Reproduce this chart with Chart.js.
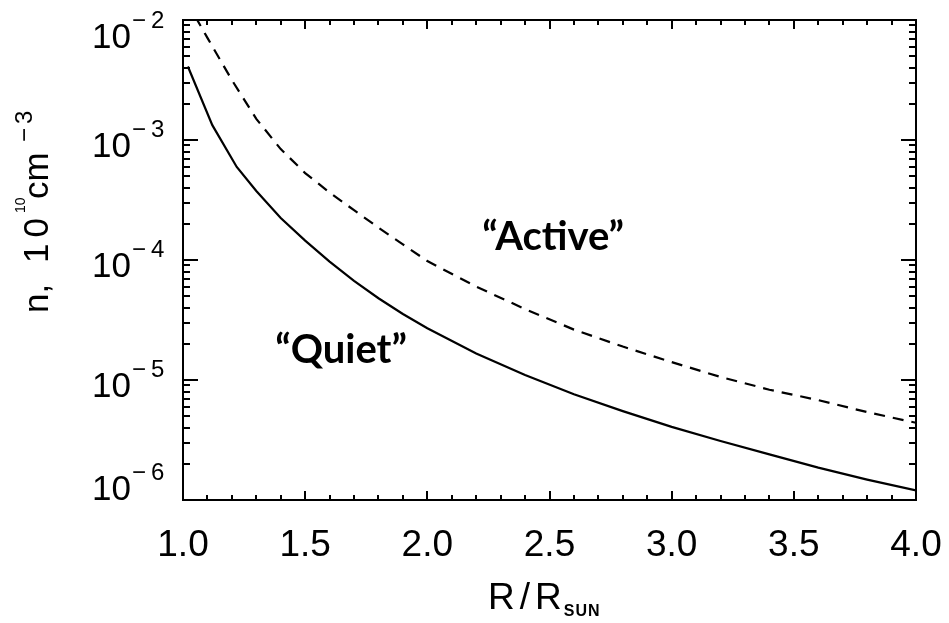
<!DOCTYPE html>
<html><head><meta charset="utf-8">
<script src="https://cdn.jsdelivr.net/npm/chart.js@4/dist/chart.umd.min.js"></script>
<style>html,body{margin:0;padding:0;background:#fff;}#wrap{width:949px;height:623px;}</style>
</head><body><div id="wrap"><canvas id="c" width="949" height="623"></canvas></div>
<script>
// ---- data ----
const quietR = [1.02, 1.12, 1.22, 1.3, 1.4, 1.5, 1.6, 1.7, 1.8, 1.9, 2.0, 2.2, 2.4, 2.6, 2.8, 3.0, 3.2, 3.4, 3.6, 3.8, 4.0];
const quietN = [4.1e-3, 1.33e-3, 5.96e-4, 3.76e-4, 2.24e-4, 1.45e-4, 9.7e-5, 6.7e-5, 4.8e-5, 3.55e-5, 2.7e-5, 1.66e-5, 1.1e-5, 7.6e-6, 5.5e-6, 4.07e-6, 3.1e-6, 2.4e-6, 1.86e-6, 1.48e-6, 1.2e-6];
const activeR = [1.05, 1.1, 1.2, 1.3, 1.4, 1.5, 1.6, 1.7, 1.8, 1.9, 2.0, 2.2, 2.4, 2.6, 2.8, 3.0, 3.2, 3.4, 3.6, 3.8, 4.0];
const activeN = [1.07e-2, 7.1e-3, 3.16e-3, 1.5e-3, 8.4e-4, 5.3e-4, 3.65e-4, 2.6e-4, 1.86e-4, 1.35e-4, 9.8e-5, 6.0e-5, 3.9e-5, 2.63e-5, 1.9e-5, 1.41e-5, 1.06e-5, 8.3e-6, 6.8e-6, 5.4e-6, 4.4e-6];
const xTickValues = [1.0, 1.5, 2.0, 2.5, 3.0, 3.5, 4.0];
const xTickLabels = ['1.0', '1.5', '2.0', '2.5', '3.0', '3.5', '4.0'];
const yDecades = [1e-6, 1e-5, 1e-4, 1e-3, 1e-2];
const yExponents = ['\u22126', '\u22125', '\u22124', '\u22123', '\u22122'];
const yMinorMultipliers = [2, 3, 4, 5, 6, 7, 8, 9];
const xMinorStep = 0.1;
const seriesNames = ['\u201CQuiet\u201D', '\u201CActive\u201D'];

// ---- layout / style ----
const annotationPos = [{x: 1.647, y: 1.39e-5}, {x: 2.515, y: 1.21e-4}];
const AX_FONT = '"Liberation Sans", Arial, sans-serif';

const decoPlugin = {
  id: 'deco',
  afterDraw(chart) {
    const ctx = chart.ctx, a = chart.chartArea;
    const xs = chart.scales.x, ys = chart.scales.y;
    ctx.save();
    ctx.strokeStyle = '#000'; ctx.fillStyle = '#000'; ctx.lineWidth = 2;
    // inner ticks, y (left & right)
    const yTick = (v, len) => {
      const p = Math.round(ys.getPixelForValue(v));
      ctx.beginPath();
      ctx.moveTo(a.left, p); ctx.lineTo(a.left + len, p);
      ctx.moveTo(a.right, p); ctx.lineTo(a.right - len, p);
      ctx.stroke();
    };
    yDecades.forEach((d, i) => {
      yTick(d, 15);
      if (i < yDecades.length - 1) yMinorMultipliers.forEach(m => yTick(d * m, 7));
    });
    // inner ticks, x (bottom & top)
    const n = Math.round((xs.max - xs.min) / xMinorStep);
    for (let k = 0; k <= n; k++) {
      const v = xs.min + k * xMinorStep;
      const major = xTickValues.some(t => Math.abs(t - v) < 1e-6);
      const len = major ? 9 : 5;
      const p = Math.round(xs.getPixelForValue(v));
      ctx.beginPath();
      ctx.moveTo(p, a.bottom); ctx.lineTo(p, a.bottom - len);
      ctx.moveTo(p, a.top); ctx.lineTo(p, a.top + len);
      ctx.stroke();
    }
    // y tick labels: 10 with superscript exponent
    yDecades.forEach((d, i) => {
      const py = ys.getPixelForValue(d);
      let base = py + 17;
      if (base - 28 < a.top) base += a.top - (base - 28);
      if (base > a.bottom) base -= base - a.bottom;
      ctx.textBaseline = 'alphabetic';
      ctx.font = '35px ' + AX_FONT;
      ctx.textAlign = 'right';
      ctx.fillText('10', a.left - 52, base);
      ctx.textAlign = 'left';
      ctx.font = '24px ' + AX_FONT;
      ctx.letterSpacing = '5px';
      ctx.fillText(yExponents[i], a.left - 51, base - 20);
      ctx.letterSpacing = '0px';
    });
    // y title (rotated)
    ctx.save();
    ctx.translate(48, 313);
    ctx.rotate(-Math.PI / 2);
    ctx.textAlign = 'left'; ctx.textBaseline = 'alphabetic';
    ctx.font = '35px ' + AX_FONT;
    ctx.fillText('n,', 0, 0);
    ctx.letterSpacing = '6px';
    ctx.fillText('10', 50, 0);
    ctx.letterSpacing = '0px';
    ctx.font = '14px ' + AX_FONT;
    ctx.fillText('10', 100, -23);
    ctx.font = '35px ' + AX_FONT;
    ctx.fillText('cm', 114, 0);
    ctx.font = '24px ' + AX_FONT;
    ctx.letterSpacing = '4px';
    ctx.fillText('\u22123', 171, -16);
    ctx.letterSpacing = '0px';
    ctx.restore();
    // x title
    ctx.textAlign = 'left'; ctx.textBaseline = 'alphabetic';
    ctx.font = '37px ' + AX_FONT;
    ctx.letterSpacing = '5px';
    ctx.fillText('R/R', 488, 609);
    const rw = ctx.measureText('R/R').width;
    ctx.letterSpacing = '1px';
    ctx.font = 'bold 16px ' + AX_FONT;
    ctx.fillText('SUN', 488 + rw - 3, 616);
    ctx.letterSpacing = '0px';
    // series annotations
    ctx.font = 'bold 40px Lato, "Open Sans", sans-serif';
    ctx.textAlign = 'center';
    seriesNames.forEach((t, i) => {
      const p = annotationPos[i];
      ctx.fillText(t, xs.getPixelForValue(p.x), ys.getPixelForValue(p.y));
    });
    ctx.restore();
  }
};

const mk = (rs, ns) => rs.map((r, i) => ({x: r, y: ns[i]}));
const borderOpt = {display: true, color: '#000', width: 2};

new Chart(document.getElementById('c'), {
  type: 'line',
  data: {
    datasets: [
      {label: seriesNames[0], data: mk(quietR, quietN), borderColor: '#000', borderWidth: 2.2, pointRadius: 0, tension: 0, fill: false},
      {label: seriesNames[1], data: mk(activeR, activeN), borderColor: '#000', borderWidth: 2.2, borderDash: [11, 8], pointRadius: 0, tension: 0, fill: false}
    ]
  },
  options: {
    responsive: false, animation: false, devicePixelRatio: 1,
    layout: {padding: 0},
    plugins: {legend: {display: false}, tooltip: {enabled: false}},
    scales: {
      x: {
        type: 'linear', position: 'bottom', min: 1, max: 4,
        afterFit(s) { s.height = 123; s.paddingLeft = 0; s.paddingRight = 0; },
        afterBuildTicks(s) { s.ticks = xTickValues.map(v => ({value: v})); },
        grid: {display: false, drawTicks: false},
        border: borderOpt,
        ticks: {
          autoSkip: false, maxRotation: 0, color: '#000', padding: 24,
          font: {family: AX_FONT, size: 37},
          callback: (v, i) => xTickLabels[i]
        }
      },
      xTop: {
        type: 'linear', position: 'top', min: 1, max: 4,
        afterFit(s) { s.height = 20; s.paddingLeft = 0; s.paddingRight = 0; },
        grid: {display: false, drawTicks: false}, border: borderOpt, ticks: {display: false}
      },
      y: {
        type: 'logarithmic', position: 'left', min: 1e-6, max: 1e-2,
        afterFit(s) { s.width = 183; },
        grid: {display: false, drawTicks: false}, border: borderOpt, ticks: {display: false}
      },
      yRight: {
        type: 'logarithmic', position: 'right', min: 1e-6, max: 1e-2,
        afterFit(s) { s.width = 33; },
        grid: {display: false, drawTicks: false}, border: borderOpt, ticks: {display: false}
      }
    }
  },
  plugins: [decoPlugin]
});
</script>
</body></html>
